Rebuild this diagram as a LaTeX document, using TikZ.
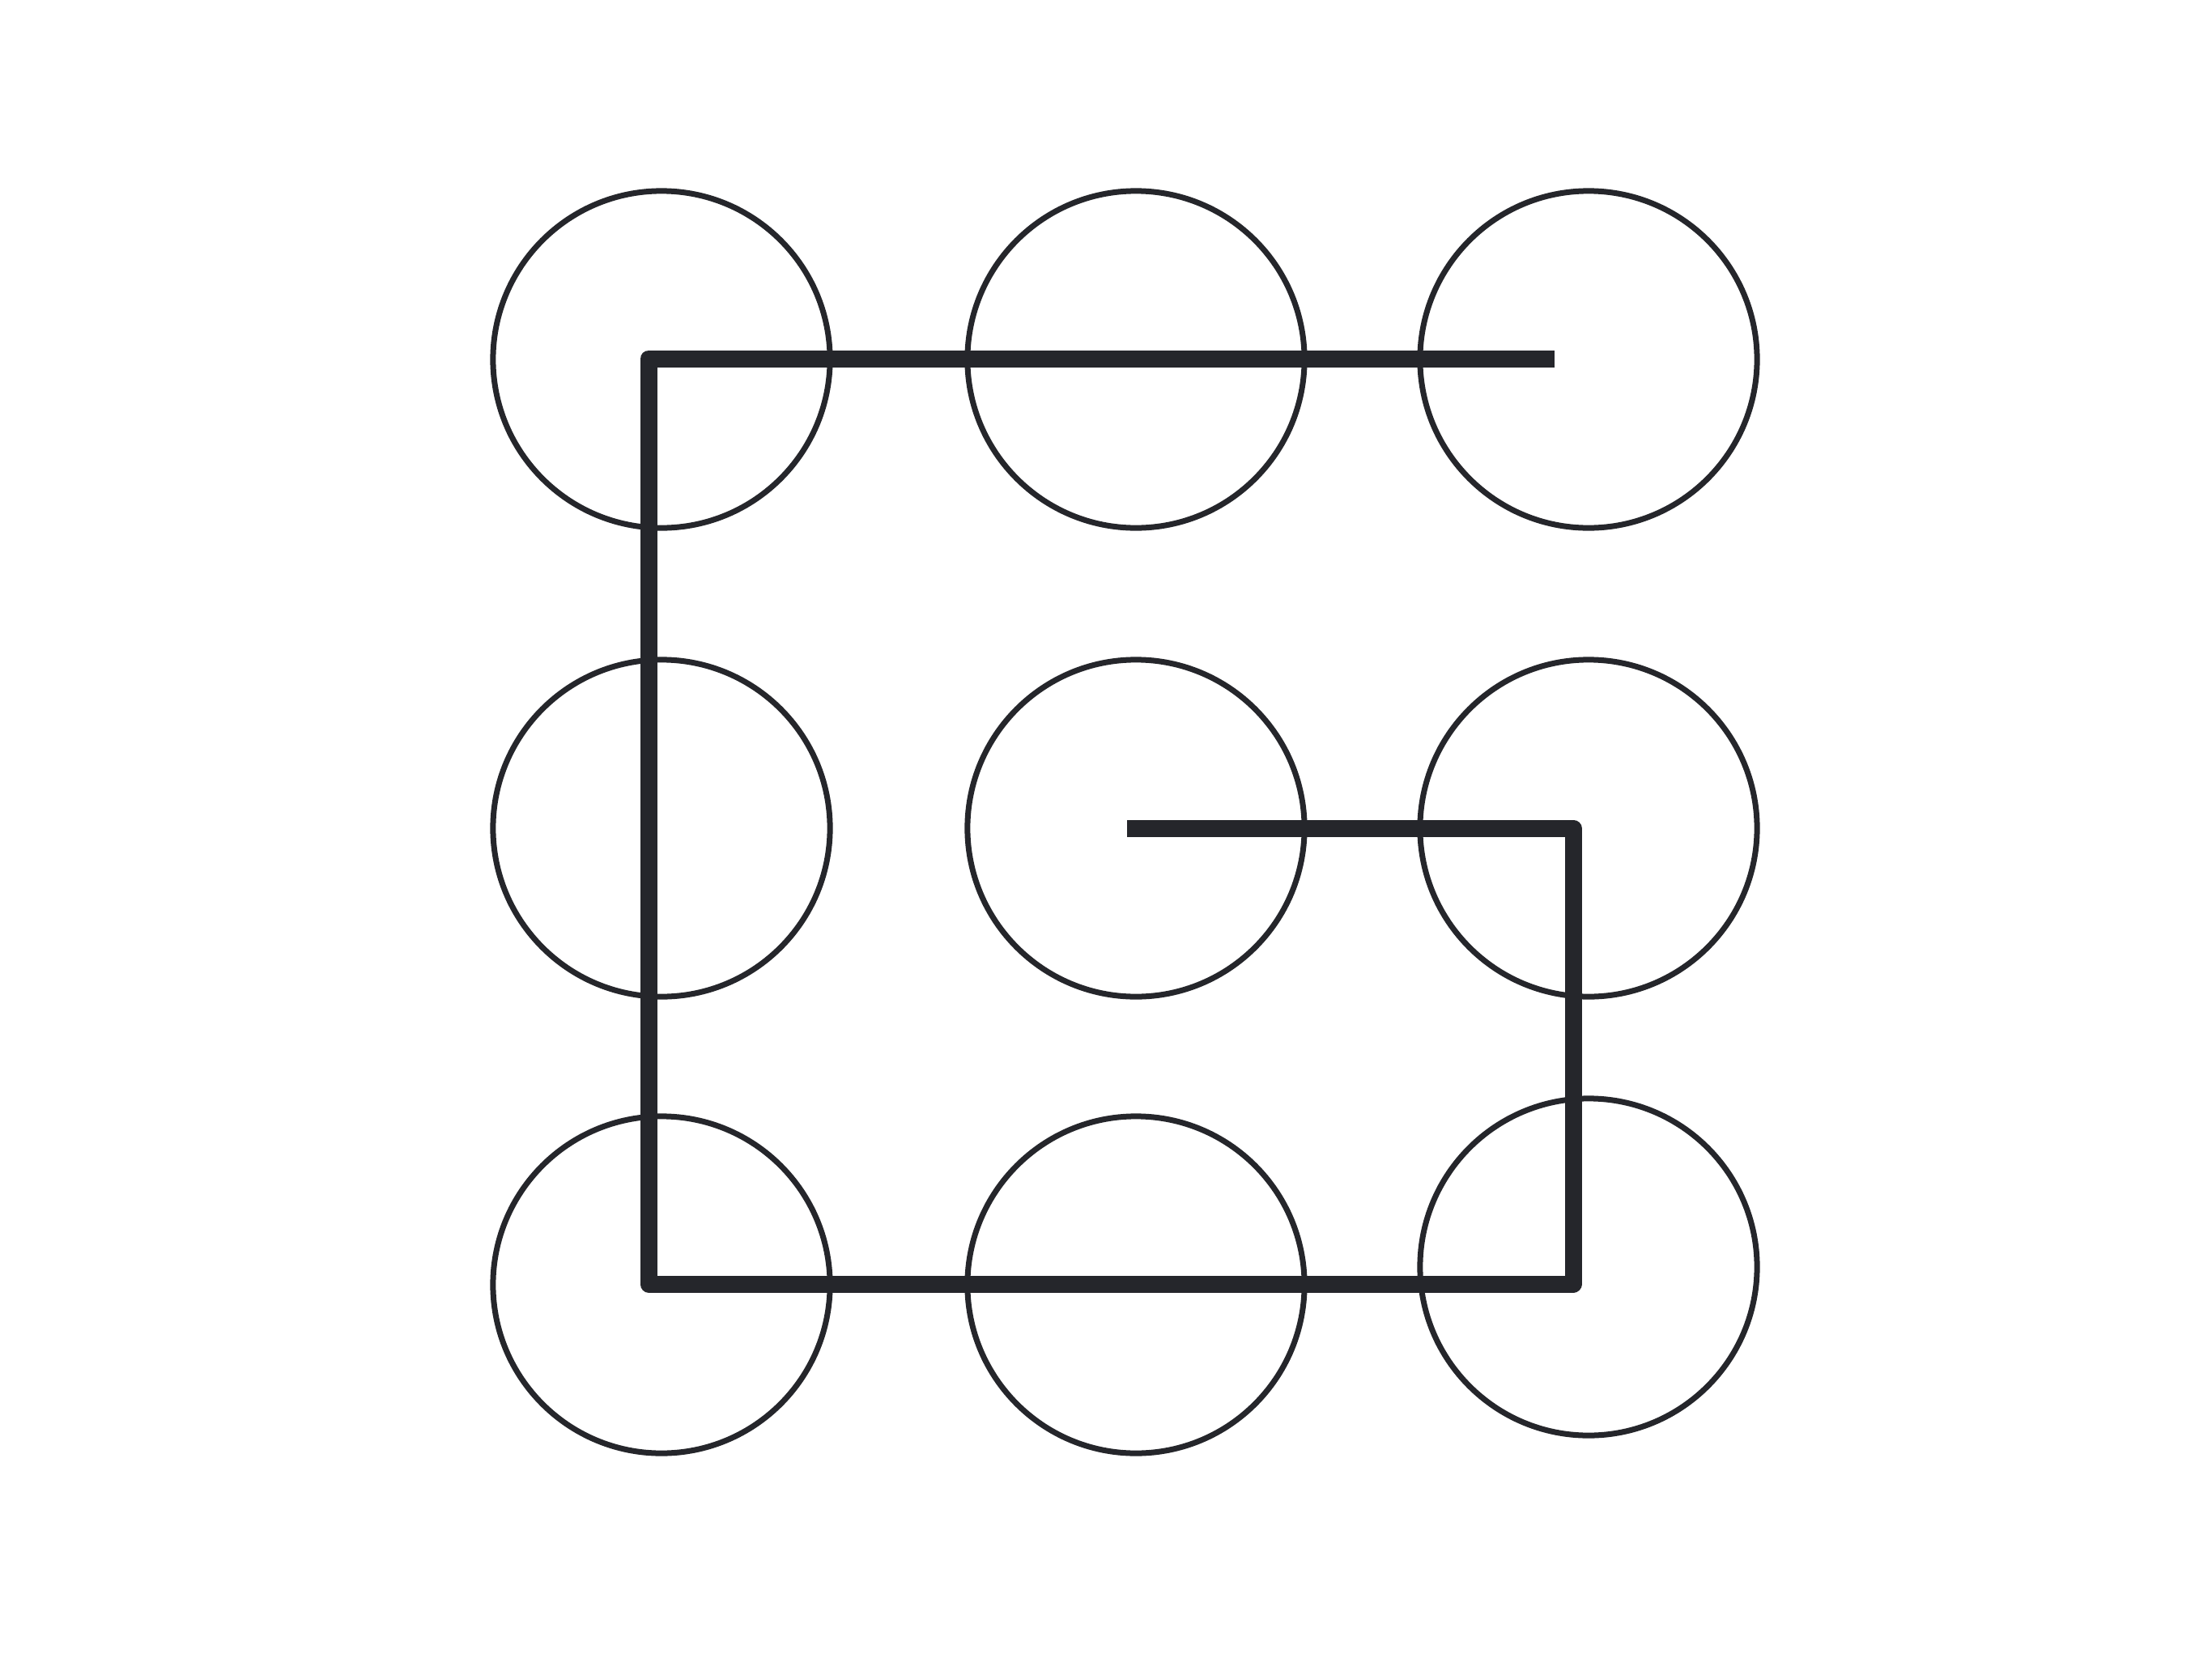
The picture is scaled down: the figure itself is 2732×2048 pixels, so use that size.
\documentclass[tikz,border=0pt]{standalone}
\usetikzlibrary{positioning}
\definecolor{ink}{HTML}{25262B}

\begin{document}
\begin{tikzpicture}[
  x=0.01cm, y=-0.01cm,
  dot/.style={draw=ink,circle,line width=0.07cm,minimum size=4.16cm,inner sep=0pt},
  trace/.style={draw=ink,line width=0.21cm,line join=round}
]
\useasboundingbox (0,0) rectangle (2732,2048);
% ---------------- grid of circles ----------------
\node[dot] (c11) at (817,444) {};
\node[dot] (c12) at (1403,444) {};
\node[dot] (c13) at (1962,444) {};
\node[dot] (c21) at (817,1023) {};
\node[dot] (c22) at (1403,1023) {};
\node[dot] (c23) at (1962,1023) {};
\node[dot] (c31) at (817,1587) {};
\node[dot] (c32) at (1403,1587) {};
\node[dot] (c33) at (1962,1565) {};

% ---------------- pattern ----------------
\coordinate (p0) at (1920,443);
\coordinate (p1) at (801,443);
\coordinate (p2) at (801,1586);
\coordinate (p3) at (1943,1586);
\coordinate (p4) at (1943,1023);
\coordinate (p5) at (1392,1023);
\draw[trace] (p0) -- (p1) -- (p2) -- (p3) -- (p4) -- (p5);
\end{tikzpicture}
\end{document}
